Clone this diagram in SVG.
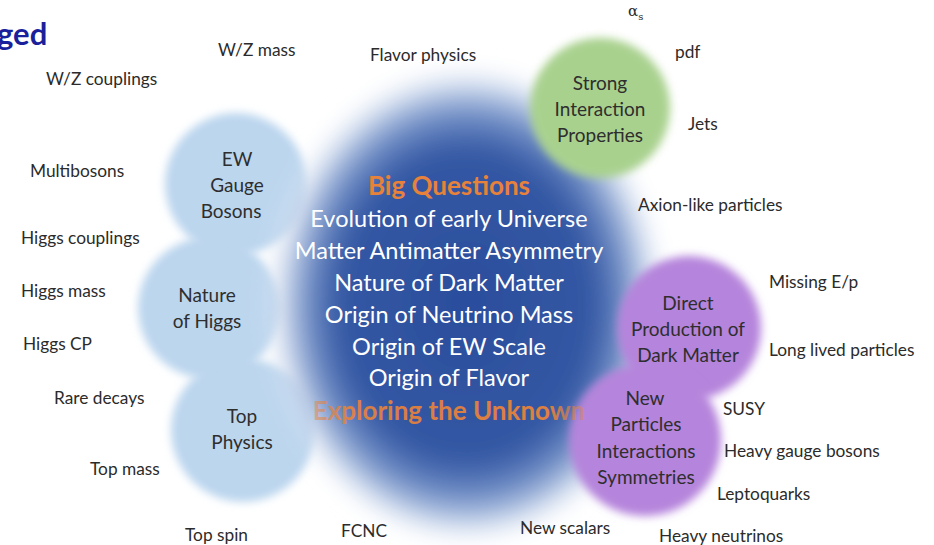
<svg xmlns="http://www.w3.org/2000/svg" width="934" height="545" viewBox="0 0 934 545">
<defs>
<filter id="soft" x="-30%" y="-30%" width="160%" height="160%"><feGaussianBlur stdDeviation="4"/></filter>
<filter id="softBig" x="-30%" y="-30%" width="160%" height="160%"><feGaussianBlur stdDeviation="13"/></filter>
<radialGradient id="gBlob" cx="50%" cy="52%" r="50%">
<stop offset="0" stop-color="#2b4d9c"/>
<stop offset="0.66" stop-color="#3458a4"/>
<stop offset="0.83" stop-color="#7896cb"/>
<stop offset="0.95" stop-color="#dce6f4"/>
<stop offset="1" stop-color="#ffffff" stop-opacity="0"/>
</radialGradient>
<linearGradient id="gExp" gradientUnits="userSpaceOnUse" x1="306" y1="0" x2="592" y2="0">
<stop offset="0" stop-color="#e8823a" stop-opacity="0.35"/>
<stop offset="0.15" stop-color="#e8823a" stop-opacity="0.9"/>
<stop offset="0.85" stop-color="#e8823a" stop-opacity="0.95"/>
<stop offset="1" stop-color="#e8823a" stop-opacity="0.25"/>
</linearGradient>
</defs>
<style>
text{font-family:Lato,"Open Sans","Liberation Sans",sans-serif;}
.lbl{font-size:17.3px;fill:#2b2b2b;}
.node{font-size:19px;fill:#2e2e2e;text-anchor:middle;}
.q{font-size:23.5px;fill:#ffffff;text-anchor:middle;}
.hq{font-size:26px;font-weight:bold;fill:#e8823a;text-anchor:middle;}
.blue{fill:#bcd6ee;}
</style>
<rect width="934" height="545" fill="#ffffff"/>
<text x="-3" y="45" style="font-size:31px;font-weight:bold;fill:#1a1f9c">ged</text>

<g id="ew">
<circle cx="236" cy="184" r="71" class="blue" filter="url(#soft)"/>
</g>
<g id="higgs">
<circle cx="209" cy="308" r="71" class="blue" filter="url(#soft)"/>
</g>
<g id="top">
<circle cx="243" cy="430" r="72" class="blue" filter="url(#soft)"/>
</g>
<g id="big">
<ellipse cx="466" cy="296" rx="196" ry="236" fill="url(#gBlob)" filter="url(#softBig)"/>
</g>
<g id="strong">
<circle cx="600" cy="108" r="70" fill="#a9d18e" filter="url(#soft)"/>
</g>
<g id="dm">
<circle cx="689" cy="328" r="72" fill="#b584dc" filter="url(#soft)"/>
</g>
<g id="newp">
<circle cx="645" cy="440" r="76" fill="#b584dc" filter="url(#soft)"/>
</g>

<g id="node-text">
<text class="node" x="237" y="166">EW</text>
<text class="node" x="237" y="192">Gauge</text>
<text class="node" x="231" y="218">Bosons</text>
<text class="node" x="207" y="302">Nature</text>
<text class="node" x="207" y="328">of Higgs</text>
<text class="node" x="242" y="423">Top</text>
<text class="node" x="242" y="449">Physics</text>
<text class="node" x="600" y="90">Strong</text>
<text class="node" x="600" y="116">Interaction</text>
<text class="node" x="600" y="142">Properties</text>
<text class="node" x="688" y="310">Direct</text>
<text class="node" x="688" y="336">Production of</text>
<text class="node" x="688" y="362">Dark Matter</text>
<text class="node" x="645" y="405">New</text>
<text class="node" x="646" y="431">Particles</text>
<text class="node" x="646" y="458">Interactions</text>
<text class="node" x="646" y="484">Symmetries</text>
</g>

<g id="questions">
<text class="hq" x="449" y="195">Big Questions</text>
<text class="q" x="449" y="227">Evolution of early Universe</text>
<text class="q" x="449" y="259">Matter Antimatter Asymmetry</text>
<text class="q" x="449" y="291">Nature of Dark Matter</text>
<text class="q" x="449" y="323">Origin of Neutrino Mass</text>
<text class="q" x="449" y="355">Origin of EW Scale</text>
<text class="q" x="449" y="386">Origin of Flavor</text>
<text class="hq" x="449" y="420" style="fill:url(#gExp)">Exploring the Unknown</text>
</g>

<g id="labels">
<text class="lbl" x="218" y="56">W/Z mass</text>
<text class="lbl" x="46" y="85">W/Z couplings</text>
<text class="lbl" x="370" y="61">Flavor physics</text>
<text class="lbl" x="628" y="16" style="font-family:'DejaVu Serif',serif;font-size:15px">α<tspan dy="4" style="font-size:10px">s</tspan></text>
<text class="lbl" x="675" y="58">pdf</text>
<text class="lbl" x="688" y="130">Jets</text>
<text class="lbl" x="30" y="177">Multibosons</text>
<text class="lbl" x="638" y="211">Axion-like particles</text>
<text class="lbl" x="21" y="244">Higgs couplings</text>
<text class="lbl" x="21" y="297">Higgs mass</text>
<text class="lbl" x="23" y="350">Higgs CP</text>
<text class="lbl" x="769" y="288">Missing E/p</text>
<text class="lbl" x="769" y="356">Long lived particles</text>
<text class="lbl" x="54" y="404">Rare decays</text>
<text class="lbl" x="723" y="415">SUSY</text>
<text class="lbl" x="724" y="457">Heavy gauge bosons</text>
<text class="lbl" x="90" y="475">Top mass</text>
<text class="lbl" x="717" y="500">Leptoquarks</text>
<text class="lbl" x="520" y="534">New scalars</text>
<text class="lbl" x="341" y="537">FCNC</text>
<text class="lbl" x="185" y="541">Top spin</text>
<text class="lbl" x="659" y="542">Heavy neutrinos</text>
</g>
</svg>
